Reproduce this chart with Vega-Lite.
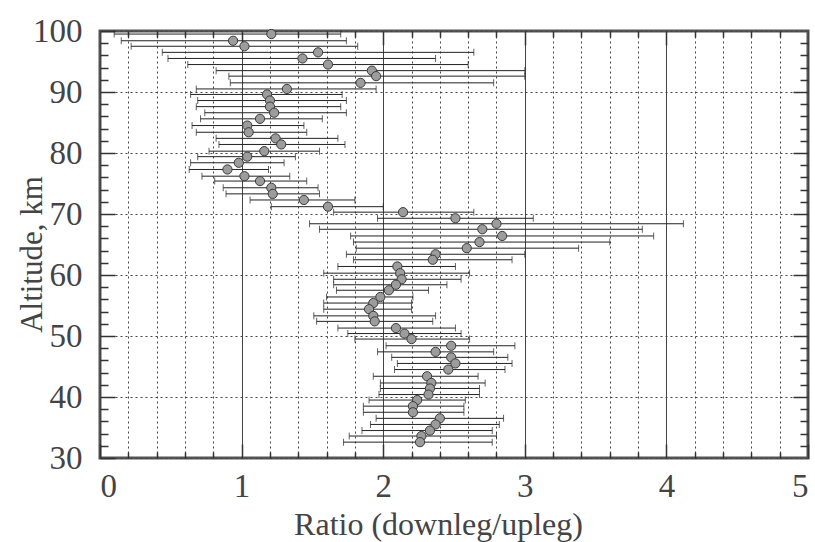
{
  "$schema": "https://vega.github.io/schema/vega-lite/v6.json",
  "width": 708,
  "height": 427,
  "autosize": {"type": "none"},
  "padding": {"left": 100, "top": 31, "right": 7, "bottom": 84},
  "background": "white",
  "config": {
    "view": {"stroke": "#555", "strokeWidth": 3},
    "axis": {
      "labelFont": "Liberation Serif",
      "labelFontSize": 33,
      "labelColor": "#444",
      "titleFont": "Liberation Serif",
      "titleFontSize": 33,
      "titleFontWeight": "normal",
      "titleColor": "#444",
      "tickColor": "#333",
      "tickWidth": 1.5,
      "domain": false,
      "gridColor": "#444",
      "gridWidth": 1
    }
  },
  "data": {
    "values": [
      {"alt": 99.5, "ratio": 1.21, "lo": 0.10, "hi": 1.70},
      {"alt": 98.4, "ratio": 0.94, "lo": 0.15, "hi": 1.74},
      {"alt": 97.5, "ratio": 1.02, "lo": 0.22, "hi": 1.82},
      {"alt": 96.5, "ratio": 1.54, "lo": 0.44, "hi": 2.64},
      {"alt": 95.5, "ratio": 1.43, "lo": 0.48, "hi": 2.37},
      {"alt": 94.5, "ratio": 1.61, "lo": 0.62, "hi": 2.60},
      {"alt": 93.5, "ratio": 1.92, "lo": 0.82, "hi": 3.00},
      {"alt": 92.6, "ratio": 1.95, "lo": 0.91, "hi": 3.00},
      {"alt": 91.5, "ratio": 1.84, "lo": 0.92, "hi": 2.78},
      {"alt": 90.5, "ratio": 1.32, "lo": 0.68, "hi": 1.95},
      {"alt": 89.6, "ratio": 1.18, "lo": 0.64, "hi": 1.71},
      {"alt": 88.6, "ratio": 1.20, "lo": 0.69, "hi": 1.74},
      {"alt": 87.6, "ratio": 1.20, "lo": 0.68, "hi": 1.70},
      {"alt": 86.6, "ratio": 1.23, "lo": 0.74, "hi": 1.74},
      {"alt": 85.6, "ratio": 1.13, "lo": 0.71, "hi": 1.57},
      {"alt": 84.5, "ratio": 1.04, "lo": 0.65, "hi": 1.44},
      {"alt": 83.4, "ratio": 1.05, "lo": 0.68, "hi": 1.46},
      {"alt": 82.4, "ratio": 1.24, "lo": 0.82, "hi": 1.68},
      {"alt": 81.4, "ratio": 1.28, "lo": 0.84, "hi": 1.73},
      {"alt": 80.3, "ratio": 1.16, "lo": 0.77, "hi": 1.55},
      {"alt": 79.4, "ratio": 1.04, "lo": 0.69, "hi": 1.38},
      {"alt": 78.4, "ratio": 0.98, "lo": 0.64, "hi": 1.30},
      {"alt": 77.3, "ratio": 0.90, "lo": 0.63, "hi": 1.19},
      {"alt": 76.2, "ratio": 1.02, "lo": 0.72, "hi": 1.34},
      {"alt": 75.4, "ratio": 1.13, "lo": 0.81, "hi": 1.46},
      {"alt": 74.3, "ratio": 1.21, "lo": 0.87, "hi": 1.54},
      {"alt": 73.3, "ratio": 1.22, "lo": 0.89, "hi": 1.55},
      {"alt": 72.3, "ratio": 1.44, "lo": 1.06, "hi": 1.80},
      {"alt": 71.2, "ratio": 1.61, "lo": 1.21, "hi": 2.00},
      {"alt": 70.3, "ratio": 2.14, "lo": 1.65, "hi": 2.64},
      {"alt": 69.3, "ratio": 2.51, "lo": 1.96, "hi": 3.06},
      {"alt": 68.4, "ratio": 2.80, "lo": 1.48, "hi": 4.12},
      {"alt": 67.5, "ratio": 2.70, "lo": 1.55, "hi": 3.83},
      {"alt": 66.4, "ratio": 2.84, "lo": 1.77, "hi": 3.91},
      {"alt": 65.4, "ratio": 2.68, "lo": 1.79, "hi": 3.60},
      {"alt": 64.4, "ratio": 2.59, "lo": 1.81, "hi": 3.38},
      {"alt": 63.4, "ratio": 2.37, "lo": 1.74, "hi": 3.00},
      {"alt": 62.5, "ratio": 2.35, "lo": 1.79, "hi": 2.91},
      {"alt": 61.4, "ratio": 2.10, "lo": 1.68, "hi": 2.51},
      {"alt": 60.3, "ratio": 2.12, "lo": 1.58, "hi": 2.61},
      {"alt": 59.3, "ratio": 2.13, "lo": 1.65, "hi": 2.55},
      {"alt": 58.4, "ratio": 2.09, "lo": 1.65, "hi": 2.45},
      {"alt": 57.5, "ratio": 2.04, "lo": 1.67, "hi": 2.32},
      {"alt": 56.4, "ratio": 1.98, "lo": 1.60, "hi": 2.21},
      {"alt": 55.4, "ratio": 1.93, "lo": 1.58, "hi": 2.20},
      {"alt": 54.4, "ratio": 1.90, "lo": 1.58, "hi": 2.20},
      {"alt": 53.3, "ratio": 1.93, "lo": 1.51, "hi": 2.37},
      {"alt": 52.4, "ratio": 1.94, "lo": 1.53, "hi": 2.35},
      {"alt": 51.3, "ratio": 2.09, "lo": 1.68, "hi": 2.51},
      {"alt": 50.4, "ratio": 2.15, "lo": 1.75, "hi": 2.55},
      {"alt": 49.5, "ratio": 2.20, "lo": 1.80, "hi": 2.61},
      {"alt": 48.4, "ratio": 2.48, "lo": 2.02, "hi": 2.93},
      {"alt": 47.4, "ratio": 2.37, "lo": 1.96, "hi": 2.78},
      {"alt": 46.5, "ratio": 2.48, "lo": 2.06, "hi": 2.88},
      {"alt": 45.5, "ratio": 2.51, "lo": 2.10, "hi": 2.91},
      {"alt": 44.5, "ratio": 2.46, "lo": 2.08, "hi": 2.86},
      {"alt": 43.4, "ratio": 2.31, "lo": 1.93, "hi": 2.67},
      {"alt": 42.3, "ratio": 2.34, "lo": 1.98, "hi": 2.72},
      {"alt": 41.4, "ratio": 2.33, "lo": 1.98, "hi": 2.68},
      {"alt": 40.4, "ratio": 2.32, "lo": 1.97, "hi": 2.68},
      {"alt": 39.5, "ratio": 2.24, "lo": 1.90, "hi": 2.58},
      {"alt": 38.5, "ratio": 2.21, "lo": 1.86, "hi": 2.57},
      {"alt": 37.5, "ratio": 2.21, "lo": 1.86, "hi": 2.57},
      {"alt": 36.5, "ratio": 2.40, "lo": 1.95, "hi": 2.85},
      {"alt": 35.5, "ratio": 2.37, "lo": 1.91, "hi": 2.82},
      {"alt": 34.5, "ratio": 2.33, "lo": 1.85, "hi": 2.77},
      {"alt": 33.6, "ratio": 2.27, "lo": 1.76, "hi": 2.80},
      {"alt": 32.6, "ratio": 2.26, "lo": 1.72, "hi": 2.77}
    ]
  },
  "resolve": {"axis": {"x": "independent", "y": "independent"}},
  "layer": [
    {
      "mark": {"type": "rule", "color": "#222", "strokeWidth": 1},
      "encoding": {
        "x": {
          "field": "lo", "type": "quantitative",
          "scale": {"domain": [0, 5], "nice": false, "zero": false},
          "axis": {
            "orient": "bottom", "values": [0, 1, 2, 3, 4, 5], "format": "d",
            "tickSize": -14, "labelPadding": 26, "grid": true, "gridDash": [],
            "title": "Ratio (downleg/upleg)", "titleFontSize": 32,
            "titleX": 338, "titleY": 76, "titleBaseline": "alphabetic", "titleAlign": "center"
          }
        },
        "x2": {"field": "hi"},
        "y": {
          "field": "alt", "type": "quantitative",
          "scale": {"domain": [30, 100], "nice": false, "zero": false},
          "axis": {
            "orient": "left", "values": [30, 40, 50, 60, 70, 80, 90, 100], "format": "d",
            "tickSize": -15, "labelPadding": 33, "grid": true, "gridDash": [2, 3],
            "title": "Altitude, km", "titleFontSize": 31,
            "titleX": -59, "titleY": 223, "titleBaseline": "alphabetic", "titleAlign": "center", "titleAngle": 270
          }
        }
      }
    },
    {
      "mark": {"type": "tick", "orient": "vertical", "color": "#222", "size": 7, "thickness": 1},
      "encoding": {
        "x": {
          "field": "lo", "type": "quantitative",
          "axis": {
            "orient": "bottom",
            "values": [0.2, 0.4, 0.6, 0.8, 1.2, 1.4, 1.6, 1.8, 2.2, 2.4, 2.6, 2.8, 3.2, 3.4, 3.6, 3.8, 4.2, 4.4, 4.6, 4.8],
            "tickSize": -6, "labels": false, "grid": true, "gridDash": [2, 3], "title": null
          }
        },
        "y": {
          "field": "alt", "type": "quantitative",
          "axis": {
            "orient": "left",
            "values": [32, 34, 36, 38, 42, 44, 46, 48, 52, 54, 56, 58, 62, 64, 66, 68, 72, 74, 76, 78, 82, 84, 86, 88, 92, 94, 96, 98],
            "tickSize": -8, "labels": false, "grid": false, "title": null
          }
        }
      }
    },
    {
      "mark": {"type": "tick", "orient": "vertical", "color": "#222", "size": 7, "thickness": 1},
      "encoding": {
        "x": {
          "field": "hi", "type": "quantitative",
          "axis": {
            "orient": "top",
            "values": [0.2, 0.4, 0.6, 0.8, 1.2, 1.4, 1.6, 1.8, 2.2, 2.4, 2.6, 2.8, 3.2, 3.4, 3.6, 3.8, 4.2, 4.4, 4.6, 4.8],
            "tickSize": -6, "labels": false, "grid": false, "title": null
          }
        },
        "y": {
          "field": "alt", "type": "quantitative",
          "axis": {
            "orient": "right",
            "values": [32, 34, 36, 38, 42, 44, 46, 48, 52, 54, 56, 58, 62, 64, 66, 68, 72, 74, 76, 78, 82, 84, 86, 88, 92, 94, 96, 98],
            "tickSize": -8, "labels": false, "grid": false, "title": null
          }
        }
      }
    },
    {
      "mark": {"type": "circle", "size": 85, "fill": "#9c9c9c", "stroke": "#3a3a3a", "strokeWidth": 1, "opacity": 1},
      "encoding": {
        "x": {
          "field": "ratio", "type": "quantitative",
          "axis": {
            "orient": "top", "values": [1, 2, 3, 4],
            "tickSize": -14, "labels": false, "grid": false, "title": null
          }
        },
        "y": {
          "field": "alt", "type": "quantitative",
          "axis": {
            "orient": "right", "values": [40, 50, 60, 70, 80, 90],
            "tickSize": -15, "labels": false, "grid": false, "title": null
          }
        }
      }
    }
  ]
}
